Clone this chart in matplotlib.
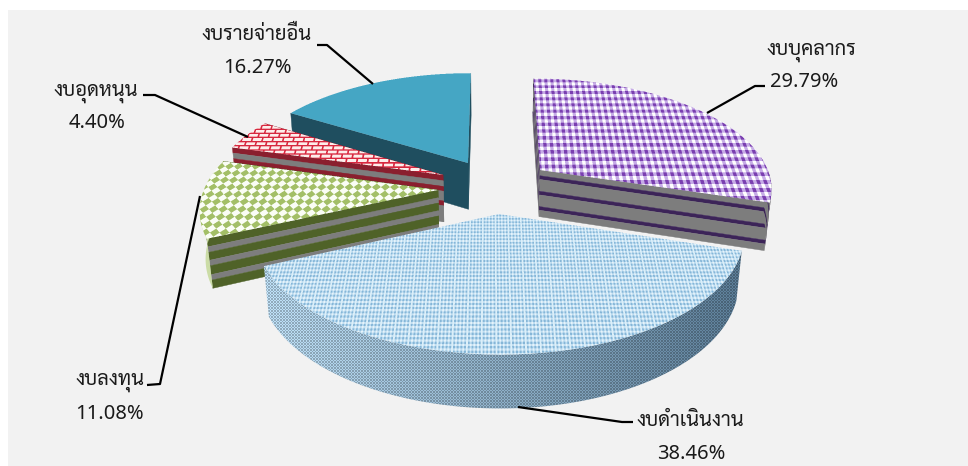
import numpy as np
import matplotlib
matplotlib.use('Agg')
import matplotlib.pyplot as plt
from matplotlib.patches import Polygon, Rectangle
from matplotlib.colors import to_rgb

categories = ['งบบุคลากร', 'งบดำเนินงาน', 'งบลงทุน', 'งบอุดหนุน', 'งบรายจ่ายอื่น']
shares = [29.79, 38.46, 11.08, 4.40, 16.27]

# ---- layout and style (pixels of the 968x466 picture) ----
W, H_PX = 968, 466
cx, cy, Rx, A, k, H, kz = 490.0, 180.0, 231.0, 108.0, 0.15, 48.0, 0.02
apex_px = [(540, 170), (499, 214), (438, 190), (443, 175), (468, 163)]
draw_order = [4, 3, 2, 0, 1]
label_pos = [(811, 55, 804, 87), (690, 426, 691, 459), (110, 385, 109, 419),
             (96, 96, 97, 128), (257, 40, 257, 73)]
leaders = [[(707, 113), (755, 86), (765, 86)],
           [(518, 407), (622, 422), (633, 422)],
           [(200, 196), (160, 384), (147, 385)],
           [(248, 137), (155, 95), (143, 95)],
           [(373, 84), (327, 45), (317, 45)]]
THAI = ['Sarabun', 'Loma', 'Noto Sans Thai', 'DejaVu Sans']
NUM = ['Noto Sans', 'DejaVu Sans']
SS = 3


def rgb(c):
    return np.array(to_rgb(c))


def pat_purple(x, y):
    i = np.floor(x / 3.5).astype(int)
    j = np.floor(y / 3.9).astype(int)
    out = np.empty(x.shape + (3,))
    out[...] = rgb('#C6ACE6')
    out[(i % 2 == 0) & (j % 2 == 0)] = rgb('#7B3FB0')
    out[(i % 2 == 1) & (j % 2 == 1)] = rgb('#FFFFFF')
    return out


def pat_blue(x, y):
    i = np.floor(x / 1.5).astype(int)
    j = np.floor(y / 1.5).astype(int)
    out = np.empty(x.shape + (3,))
    out[...] = rgb('#BEDDF1')
    out[(i % 2 == 0) & (j % 2 == 0)] = rgb('#86B6D8')
    out[(i % 2 == 1) & (j % 2 == 1)] = rgb('#E6F3FB')
    out[(i % 8 == 3)] = rgb('#DCEFFA')
    return out


def pat_green(x, y):
    a = x / 9.0 + y / 7.0
    b = x / 9.0 - y / 7.0
    chk = (np.floor(a) + np.floor(b)).astype(int) % 2 == 0
    out = np.empty(x.shape + (3,))
    out[...] = rgb('#FBFDF6')
    out[chk] = rgb('#A3BF68')
    return out


def pat_red(x, y):
    row = np.floor(y / 4.6).astype(int)
    fy = y / 4.6 - row
    xs = x + (row % 2) * 5.5
    fx = xs / 11.0 - np.floor(xs / 11.0)
    mortar = (fy < 0.33) | (fx < 0.16)
    out = np.empty(x.shape + (3,))
    out[...] = rgb('#FDEDEB')
    out[mortar] = rgb('#D8283F')
    return out


def pat_teal(x, y):
    out = np.empty(x.shape + (3,))
    out[...] = rgb('#46A6C4')
    return out


top_patterns = [pat_purple, pat_blue, pat_green, pat_red, pat_teal]
# bands of the side walls: fractions of the height with a colour
grey = '#7D7D7D'
wall_bands = [
    [(0, .12, grey), (.12, .20, '#3C2458'), (.20, .45, grey), (.45, .53, '#3C2458'),
     (.53, .78, grey), (.78, .86, '#3C2458'), (.86, 1, grey)],
    None,
    [(0, .16, '#4F6228'), (.16, .27, grey), (.27, .43, '#4F6228'), (.43, .54, grey),
     (.54, .72, '#4F6228'), (.72, .83, grey), (.83, 1, '#4F6228')],
    [(0, .12, '#8A1F2E'), (.12, .24, grey), (.24, .34, '#8A1F2E'), (.34, .55, grey),
     (.55, .65, '#8A1F2E'), (.65, 1, grey)],
    [(0, 1, '#1F4E5F')],
]
arc_bands = [wall_bands[0], None, [(0, 1, '#CBDCA6')], wall_bands[3], wall_bands[4]]


def proj(X, F, z=0.0):
    w = 1 - k * F + kz * z
    return cx + Rx * X / w, cy + A * F / w + H * z / w


def unproj(u, v):
    vv = (v - cy) / A
    F = vv / (1 + k * vv)
    return (u - cx) / Rx * (1 - k * F), F


fig = plt.figure(figsize=(W / 100, H_PX / 100), dpi=100, facecolor='white')
ax = fig.add_axes([0, 0, 1, 1])
ax.set_axis_off()
ax.add_patch(Rectangle((8, 10), W, H_PX, facecolor='#F2F2F2', edgecolor='none', zorder=0))

fracs = np.array(shares) / sum(shares)
ends = np.cumsum(fracs) * 2 * np.pi
starts = ends - fracs * 2 * np.pi
z = 1.0


def next_z():
    global z
    z += 1
    return z


def band_face(line, b0, b1):
    ua, va = proj(line[:, 0], line[:, 1], b0)
    ub, vb = proj(line[:, 0], line[:, 1], b1)
    return np.column_stack([np.r_[ua, ub[::-1]], np.r_[va, vb[::-1]]])


for idx in draw_order:
    t0, t1 = starts[idx], ends[idx]
    ox, of = unproj(*apex_px[idx])
    th = np.linspace(t0, t1, 160)
    rim_x, rim_f = ox + np.sin(th), of - np.cos(th)

    # ---- side walls: the radial cuts, back one first, then the front of the rim ----
    bands = wall_bands[idx]
    radial = sorted((-np.cos(t), t) for t in (t0, t1))
    front = -np.cos(th) > 0
    arc = np.column_stack([rim_x, rim_f])[front]
    if bands is not None:
        for _, t in radial:
            edge = np.array([[ox, of], [ox + np.sin(t), of - np.cos(t)]])
            for b0, b1, col in bands:
                ax.add_patch(Polygon(band_face(edge, b0, b1), closed=True, facecolor=col,
                                     edgecolor=col, linewidth=0.3, zorder=next_z()))
        if len(arc) > 1:
            for b0, b1, col in arc_bands[idx]:
                ax.add_patch(Polygon(band_face(arc, b0, b1), closed=True, facecolor=col,
                                     edgecolor='none', zorder=next_z()))
    else:
        pts = band_face(arc, 0, 1)
        x0, x1 = int(pts[:, 0].min()) - 1, int(pts[:, 0].max()) + 2
        y0, y1 = int(pts[:, 1].min()) - 1, int(pts[:, 1].max()) + 2
        gx, gy = np.meshgrid(np.arange(x0, x1) + .5, np.arange(y0, y1) + .5)
        t = np.clip((gx - 262) / 480.0, 0, 1)[..., None]
        base = rgb('#B0CFE4') * (1 - t) + rgb('#54738B') * t
        dots = ((np.floor(gx / 1.5) + np.floor(gy / 1.5)) % 2)[..., None]
        img = np.clip(base * (0.84 + 0.26 * dots), 0, 1)
        im = ax.imshow(img, extent=(x0, x1, y1, y0), origin='upper', interpolation='nearest',
                       aspect='auto', zorder=next_z())
        im.set_clip_path(Polygon(pts, closed=True, transform=ax.transData))

    # ---- top face, with its pattern laid on the pie plane ----
    outline_u, outline_v = proj(np.r_[ox, rim_x], np.r_[of, rim_f])
    x0, x1 = int(outline_u.min()) - 2, int(outline_u.max()) + 3
    y0, y1 = int(outline_v.min()) - 2, int(outline_v.max()) + 3
    sub = (np.arange((x1 - x0) * SS) + .5) / SS + x0
    suby = (np.arange((y1 - y0) * SS) + .5) / SS + y0
    gu, gv = np.meshgrid(sub, suby)
    wx, wf = unproj(gu, gv)
    lx, lf = wx - ox, wf - of
    r = np.hypot(lx, lf)
    ang = np.arctan2(lx, -lf) % (2 * np.pi)
    inside = (r <= 1) & (ang >= t0 % (2 * np.pi)) & (ang <= t1 + 1e-9)
    col = top_patterns[idx](wx * Rx, wf * A)
    rgba = np.dstack([col, inside.astype(float)])
    h_, w_ = y1 - y0, x1 - x0
    rgba = rgba.reshape(h_, SS, w_, SS, 4).mean(axis=(1, 3))
    ax.imshow(rgba, extent=(x0, x1, y1, y0), origin='upper', interpolation='nearest',
              aspect='auto', zorder=next_z())

top = z + 1
for pts in leaders:
    p = np.array(pts)
    ax.plot(p[:, 0], p[:, 1], color='black', lw=1.6, solid_capstyle='butt', zorder=top)

for name, val, (nx, ny, vx, vy) in zip(categories, shares, label_pos):
    ax.text(nx, ny, name, family=THAI, fontsize=14.5, color='#1A1A1A', ha='center', va='baseline', zorder=top)
    ax.text(vx, vy, f'{val:.2f}%', family=NUM, fontsize=14.5, color='#1A1A1A', ha='center', va='baseline', zorder=top)

ax.set_xlim(0, W)
ax.set_ylim(H_PX, 0)
fig.savefig('out.png', dpi=100, facecolor='white')
